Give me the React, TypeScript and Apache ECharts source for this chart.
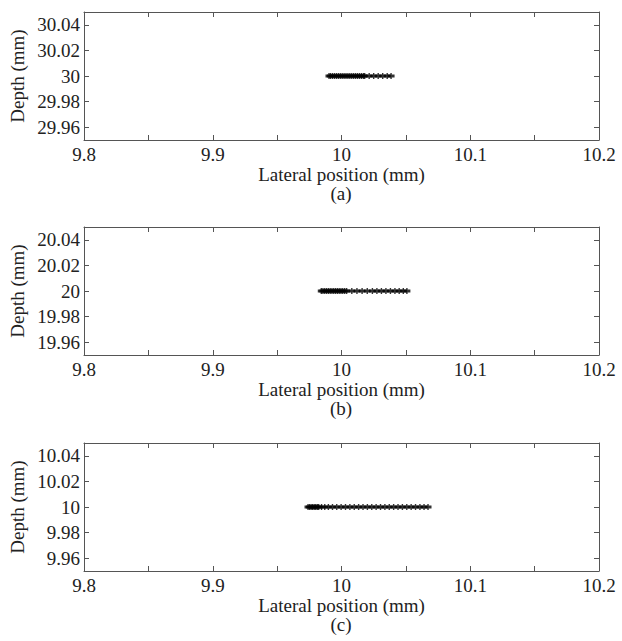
import React, { useEffect, useRef } from "react";
import * as echarts from "echarts";

// ---- Data ----
const X_TICKS = [9.8, 9.85, 9.9, 9.95, 10, 10.05, 10.1, 10.15, 10.2];
const X_LABELS = [9.8, 9.9, 10, 10.1, 10.2];
const PANEL_NAMES = ["(a)", "(b)", "(c)"];

const DEPTH_A = 30;
const DEPTH_B = 20;
const DEPTH_C = 10;

const Y_TICKS_A = [29.96, 29.98, 30, 30.02, 30.04];
const Y_TICKS_B = [19.96, 19.98, 20, 20.02, 20.04];
const Y_TICKS_C = [9.96, 9.98, 10, 10.02, 10.04];

const Y_RANGE_A = [29.95, 30.05];
const Y_RANGE_B = [19.95, 20.05];
const Y_RANGE_C = [9.95, 10.05];

const LATERAL_A = [
  9.9903, 9.9915, 9.993, 9.9945, 9.996, 9.9975, 9.999, 10.0005, 10.002, 10.0035,
  10.005, 10.0065, 10.008, 10.0095, 10.011, 10.0125, 10.014, 10.0155, 10.017, 10.018,
  10.0215, 10.025, 10.0285, 10.032, 10.0355, 10.0385,
];
const LATERAL_B = [
  9.9843, 9.9856, 9.987, 9.9884, 9.9898, 9.9912, 9.9926, 9.994, 9.9954, 9.9968,
  9.9982, 9.9996, 10.001, 10.0025, 10.004, 10.008, 10.012, 10.016, 10.02, 10.024,
  10.0275, 10.031, 10.0345, 10.038, 10.0415, 10.0448, 10.048, 10.0508,
];
const LATERAL_C = [
  9.974, 9.9752, 9.9764, 9.9776, 9.9788, 9.98, 9.9812, 9.9823, 9.9845, 9.987,
  9.9898, 9.993, 9.9963, 9.9997, 10.0031, 10.0065, 10.0099, 10.0133, 10.0167, 10.0201,
  10.0235, 10.0269, 10.0303, 10.0337, 10.0371, 10.0405, 10.0439, 10.0473, 10.0507,
  10.0541, 10.0575, 10.0609, 10.0641, 10.0672,
];

const FONT = "'Liberation Serif', 'Times New Roman', serif";
const AXIS_COLOR = "#555";
const TEXT_COLOR = "#222";
const MARK = "path://M0,1.6 L7,1.6 L7,4.4 L0,4.4 Z M2.8,0 L4.2,0 L4.2,6 L2.8,6 Z";

export default function App() {
  const ref = useRef<HTMLDivElement>(null);

  useEffect(() => {
    if (!ref.current) return;
    const chart = echarts.init(ref.current, null, { renderer: "svg" });

    const panels = [
      { depth: DEPTH_A, lat: LATERAL_A, ticks: Y_TICKS_A, range: Y_RANGE_A, top: 12 },
      { depth: DEPTH_B, lat: LATERAL_B, ticks: Y_TICKS_B, range: Y_RANGE_B, top: 227 },
      { depth: DEPTH_C, lat: LATERAL_C, ticks: Y_TICKS_C, range: Y_RANGE_C, top: 443 },
    ];

    const grid: any[] = [];
    const xAxis: any[] = [];
    const yAxis: any[] = [];
    const series: any[] = [];
    const graphic: any[] = [];

    const lineStyle = { color: AXIS_COLOR, width: 1 };
    const labelStyle = { fontFamily: FONT, fontSize: 19, color: TEXT_COLOR };

    panels.forEach((p, i) => {
      grid.push({ left: 83, width: 516, top: p.top, height: 128, show: false });
      xAxis.push({
        gridIndex: i,
        type: "value",
        position: "bottom",
        min: 9.8,
        max: 10.2,
        axisLine: { show: true, onZero: false, lineStyle },
        axisTick: { show: true, inside: true, length: 5, customValues: X_TICKS, lineStyle },
        axisLabel: { ...labelStyle, lineHeight: 19, margin: 5, customValues: X_LABELS },
        splitLine: { show: false },
        name: "Lateral position (mm)",
        nameLocation: "middle",
        nameGap: 24.5,
        nameMoveOverlap: false,
        nameTextStyle: { ...labelStyle, lineHeight: 19 },
      });
      xAxis.push({
        gridIndex: i,
        type: "value",
        position: "top",
        min: 9.8,
        max: 10.2,
        axisLine: { show: true, onZero: false, lineStyle },
        axisTick: { show: true, inside: true, length: 5, customValues: X_TICKS, lineStyle },
        axisLabel: { show: false },
        splitLine: { show: false },
      });
      yAxis.push({
        gridIndex: i,
        type: "value",
        position: "left",
        min: p.range[0],
        max: p.range[1],
        axisLine: { show: true, onZero: false, lineStyle },
        axisTick: { show: true, inside: true, length: 5, customValues: p.ticks, lineStyle },
        axisLabel: { ...labelStyle, margin: 4, customValues: p.ticks },
        splitLine: { show: false },
        name: "Depth (mm)",
        nameLocation: "middle",
        nameGap: 57,
        nameMoveOverlap: false,
        nameTextStyle: { ...labelStyle },
      });
      yAxis.push({
        gridIndex: i,
        type: "value",
        position: "right",
        min: p.range[0],
        max: p.range[1],
        axisLine: { show: true, onZero: false, lineStyle },
        axisTick: { show: true, inside: true, length: 5, customValues: p.ticks, lineStyle },
        axisLabel: { show: false },
        splitLine: { show: false },
      });
      series.push({
        type: "scatter",
        xAxisIndex: i * 2,
        yAxisIndex: i * 2,
        symbol: MARK,
        symbolSize: [7, 6],
        symbolKeepAspect: false,
        itemStyle: { color: "#000", opacity: 0.8 },
        data: p.lat.map((x) => [x, p.depth]),
      });
      graphic.push({
        type: "text",
        x: 341,
        y: p.top + 181.5,
        style: {
          text: PANEL_NAMES[i],
          fontFamily: FONT,
          fontSize: 19,
          lineHeight: 19,
          fill: TEXT_COLOR,
          textAlign: "center",
          textVerticalAlign: "middle",
        },
      });
    });

    chart.setOption({
      animation: false,
      backgroundColor: "#fff",
      grid,
      xAxis,
      yAxis,
      series,
      graphic,
    });

    return () => chart.dispose();
  }, []);

  return (
    <div
      ref={ref}
      style={{ position: "fixed", left: 0, top: 0, width: 622, height: 641 }}
    />
  );
}
